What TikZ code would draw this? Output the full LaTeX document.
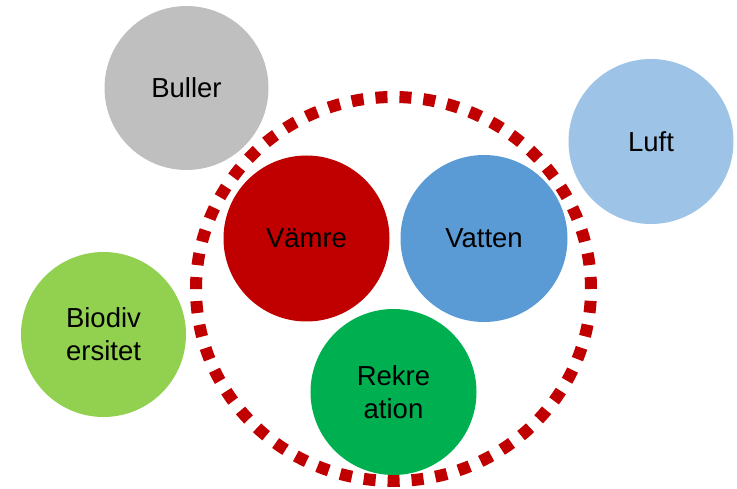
\documentclass[tikz,border=0pt]{standalone}
\usepackage{fontspec}
\setmainfont{Liberation Sans}
\usetikzlibrary{shapes.geometric}
\definecolor{cgray}{HTML}{BFBFBF}
\definecolor{clight}{HTML}{9DC3E6}
\definecolor{cred}{HTML}{C00000}
\definecolor{cblue}{HTML}{5B9BD5}
\definecolor{clime}{HTML}{92D050}
\definecolor{cgreen}{HTML}{00B050}
\tikzset{
  bubble/.style={circle, inner sep=0pt, minimum size=166pt, align=center,
    font=\fontsize{27.5}{33}\selectfont, text=black},
  ringstyle/.style={ellipse, draw=cred, line width=12pt, dash pattern=on 12pt off 12pt,
    minimum width=395pt, minimum height=384pt, inner sep=0pt}
}
\begin{document}
\begin{tikzpicture}[x=1pt,y=-1pt]
\useasboundingbox (0,0) rectangle (737,489);
\node[ringstyle] (ring) at (393.5,289) {};
\node[bubble, fill=cgray, minimum size=164pt] (buller) at (186.5,88) {Buller};
\node[bubble, fill=clight, minimum size=165pt] (luft) at (651,141.5) {Luft};
\node[bubble, fill=cred] (vamre) at (306.5,238.5) {Vämre};
\node[bubble, fill=cblue, minimum size=167pt] (vatten) at (484,238.5) {Vatten};
\node[bubble, fill=clime, minimum size=165pt] (biodiv) at (103.5,334.5) {Biodiv\\ersitet};
\node[bubble, fill=cgreen] (rekre) at (393.5,392) {Rekre\\ation};
\end{tikzpicture}
\end{document}
